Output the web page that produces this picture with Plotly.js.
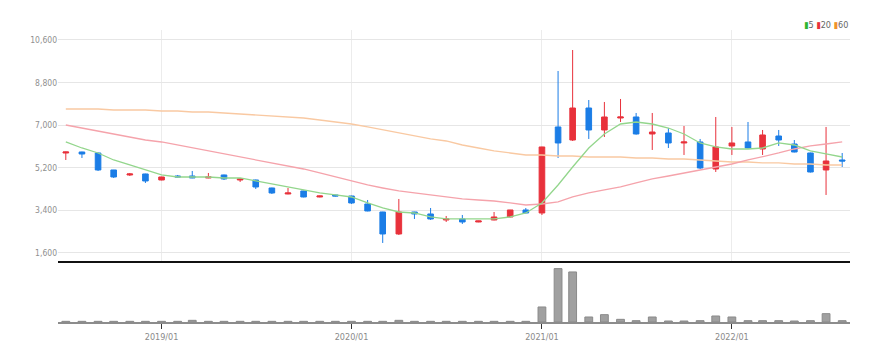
<!DOCTYPE html>
<html><head><meta charset="utf-8">
<script src="https://cdn.plot.ly/plotly-3.0.1.min.js"></script>
<style>html,body{margin:0;padding:0;background:#fff;}#chart{width:883px;height:362px;}</style>
</head><body><div id="chart"></div>
<script>
const months = ['2018-07','2018-08','2018-09','2018-10','2018-11','2018-12',
  '2019-01','2019-02','2019-03','2019-04','2019-05','2019-06','2019-07','2019-08','2019-09','2019-10','2019-11','2019-12',
  '2020-01','2020-02','2020-03','2020-04','2020-05','2020-06','2020-07','2020-08','2020-09','2020-10','2020-11','2020-12',
  '2021-01','2021-02','2021-03','2021-04','2021-05','2021-06','2021-07','2021-08','2021-09','2021-10','2021-11','2021-12',
  '2022-01','2022-02','2022-03','2022-04','2022-05','2022-06','2022-07','2022-08'];
const opens  = [5825,5867,5825,5107,4896,4938,4684,4853,4853,4769,4896,4684,4684,4346,4093,4220,3966,4051,4008,3670,3332,2403,3332,3248,2994,3037,2910,2994,3121,3417,3290,6924,6374,7726,6797,7304,7346,6628,6670,6248,6290,5149,6121,6290,5994,6543,6205,5825,5107,5529];
const highs  = [5880,5880,5840,5110,4980,4950,4820,4896,5065,4980,4910,4740,4700,4360,4346,4230,4020,4060,4020,3839,3340,3882,3340,3501,3163,3206,2960,3332,3420,3501,6090,9290,10177,8064,7980,8107,7515,7515,6881,6966,6417,7346,6924,7135,6797,6797,6374,5840,6924,5825];
const lows   = [5529,5614,5065,4769,4853,4558,4670,4790,4760,4760,4684,4600,4304,4093,4080,3950,3950,3990,3670,3360,2023,2360,3037,2994,2910,2825,2900,2980,3110,3280,3206,5614,6332,6417,6501,7135,6600,5952,6036,5741,5149,5022,5741,6020,5741,6121,5850,5000,4051,5234];
const closes = [5867,5782,5107,4811,4938,4642,4811,4811,4769,4811,4727,4727,4389,4135,4135,3966,4008,4008,3713,3375,2403,3332,3248,3037,3037,2910,2952,3121,3417,3290,6079,6248,7726,6797,7346,7346,6628,6712,6248,6290,5191,6079,6248,6036,6586,6374,5867,5022,5487,5487];
const ma5  = [6290,6036,5825,5529,5318,5107,4896,4811,4811,4811,4769,4769,4642,4515,4389,4262,4135,4051,3966,3713,3501,3332,3290,3121,3037,3037,3037,3037,3121,3290,3713,4473,5234,6036,6628,7050,7135,7050,6881,6628,6248,6079,5994,5994,6036,6248,6163,5910,5783,5656];
const ma20 = [7008,6881,6755,6628,6501,6374,6290,6163,6036,5910,5783,5656,5529,5403,5276,5149,4980,4811,4642,4473,4346,4220,4135,4051,3966,3882,3839,3797,3713,3628,3670,3755,3966,4135,4262,4389,4558,4727,4853,4980,5107,5234,5360,5529,5656,5825,5994,6121,6205,6290];
const ma60 = [7684,7684,7684,7642,7642,7642,7600,7600,7557,7557,7515,7473,7431,7388,7346,7304,7219,7135,7050,6924,6797,6670,6543,6417,6332,6163,6036,5910,5825,5741,5741,5698,5698,5656,5656,5656,5614,5614,5572,5572,5529,5487,5445,5445,5403,5403,5360,5360,5318,5318];
const volumes = [2,2,2,2,2,2,2,2,5,2,2,2,2,2,2,2,2,2,2,2,2,5,2,2,2,2,2,2,2,2,45,160,150,15,22,8,4,15,3,3,4,18,15,4,4,4,3,4,25,4].map(v=>v*10000);
const maNames = ['5','20','60'];
const maLineColors = ['#93d68c','#f5a3ab','#f9c9a2'];
const maKeyColors = ['#2fb52f','#e8333a','#f0922c'];
const yTicks = [1600,3400,5200,7000,8800,10600];
const xTickVals = ['2019-01','2020-01','2021-01','2022-01'];
const xTickText = ['2019/01','2020/01','2021/01','2022/01'];

const FONT = "'Liberation Sans Narrow','DejaVu Sans Condensed','Arial Narrow',sans-serif";
const RED = '#e8313b', BLUE = '#1b7de6';

const traces = [];
[ma60, ma20, ma5].forEach((arr, k) => {
  const idx = 2 - k;
  traces.push({type:'scatter', mode:'lines', x: months, y: arr, name: maNames[idx],
    xaxis:'x2', yaxis:'y', line:{color: maLineColors[idx], width:1.3}, showlegend:false, hoverinfo:'skip'});
});
traces.push({type:'candlestick', x: months, open: opens, high: highs, low: lows, close: closes,
  xaxis:'x2', yaxis:'y', whiskerwidth:0,
  increasing:{line:{color:RED, width:1}, fillcolor:RED},
  decreasing:{line:{color:BLUE, width:1}, fillcolor:BLUE},
  showlegend:false});
traces.push({type:'bar', x: months, y: volumes, xaxis:'x', yaxis:'y2',
  width: 15*86400000, marker:{color:'#a0a0a0', line:{color:'#8a8a8a', width:1}}, showlegend:false});

const keyText = maNames.map((n,i)=>'<span style="color:'+maKeyColors[i]+'">▮</span>'+n).join(' ');

const layout = {
  width:883, height:362,
  margin:{l:58, r:33, t:30, b:40},
  paper_bgcolor:'#fff', plot_bgcolor:'#fff',
  font:{family:FONT, size:9, color:'#8a8a8a'},
  showlegend:false, hovermode:false, boxgap:0.45, bargap:0,
  xaxis:{type:'date', domain:[0,1], anchor:'y2', range:['2018-06-16','2022-08-16'],
    tickvals:xTickVals, ticktext:xTickText, ticks:'outside', ticklen:5, tickcolor:'#333',
    showgrid:false, zeroline:false, showline:true, linecolor:'#8c8c8c', linewidth:2,
    tickfont:{family:FONT, size:9, color:'#8a8a8a'}, rangeslider:{visible:false}},
  xaxis2:{type:'date', matches:'x', anchor:'y', range:['2018-06-16','2022-08-16'],
    tickvals:xTickVals, showticklabels:false, ticks:'',
    showgrid:true, gridcolor:'#ececec', gridwidth:1, zeroline:false,
    showline:true, linecolor:'#111', linewidth:2, rangeslider:{visible:false}},
  yaxis:{domain:[0.209,1], anchor:'x2', range:[1262,11022], tickvals:yTicks, tickformat:',d',
    showgrid:true, gridcolor:'#e6e6e6', gridwidth:1, zeroline:false, showline:false, ticks:'',
    tickfont:{family:FONT, size:8.5, color:'#8f8f8f'}},
  yaxis2:{domain:[0,0.2], anchor:'x', range:[0,1750000], showticklabels:false, showgrid:false,
    zeroline:false, showline:false, ticks:''},
  annotations:[{xref:'paper', yref:'paper', x:1, y:1.017, xanchor:'right', yanchor:'middle',
    text:keyText, showarrow:false, font:{family:FONT, size:9, color:'#666'}}]
};
Plotly.newPlot('chart', traces, layout, {displayModeBar:false, staticPlot:true});
</script></body></html>
